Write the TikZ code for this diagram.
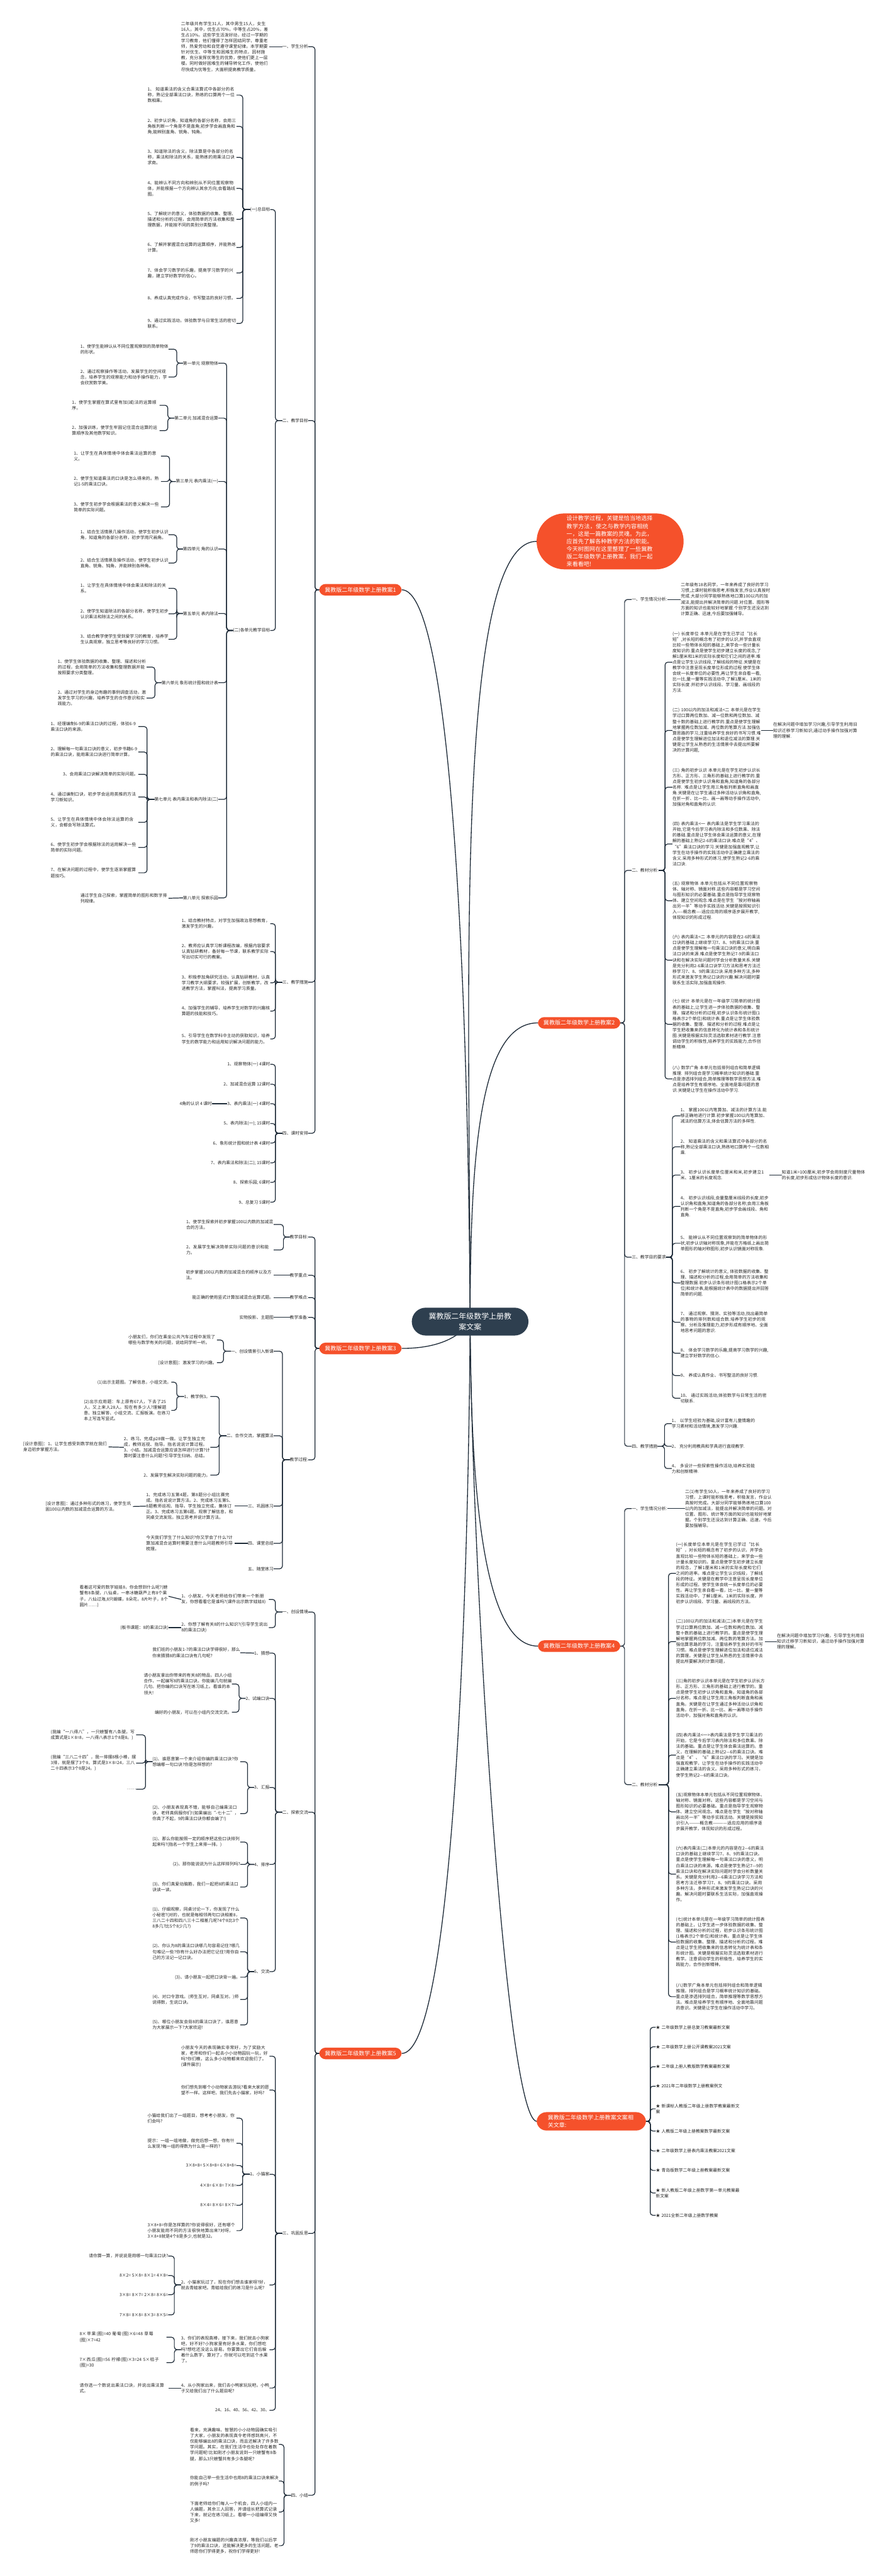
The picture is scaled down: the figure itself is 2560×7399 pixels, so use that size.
\documentclass[tikz,border=0pt]{standalone}
\usepackage{fontspec}
\setmainfont{Noto Sans CJK SC}
\usetikzlibrary{backgrounds}
\XeTeXlinebreaklocale "zh"
\XeTeXlinebreakskip = 0pt plus 1pt
\definecolor{ink}{HTML}{1E2B38}
\definecolor{topicred}{HTML}{F5512B}
\definecolor{rootslate}{HTML}{2E3F4F}

\begin{document}
\begin{tikzpicture}[x=1pt, y=-1pt,
    every node/.style={font=\fontsize{12.3}{16.4}\selectfont, text=black!85, inner sep=0pt},
    para/.style={text width=#1pt, align=left},
    lnode/.style={anchor=east},
    rnode/.style={anchor=west},
    topic/.style={rectangle, fill=topicred, text=white, rounded corners=18pt,
      font=\fontsize{16.3}{21.6}\selectfont, inner xsep=16pt, inner ysep=9pt},
    rootbox/.style={rectangle, fill=rootslate, text=white, rounded corners=40pt,
      minimum width=335pt, minimum height=80pt, align=center,
      font=\fontsize{21.6}{31}\selectfont},
    link/.style={draw=ink, line width=2.2pt, rounded corners=8pt},
    trunk/.style={draw=ink, line width=2.4pt}
  ]
  \useasboundingbox (0,0) rectangle (2560,7399);

  % ===== Root and the lesson topics =====
  \node[rootbox] (root) at (1350,3796) {冀教版二年级数学上册教\\案文案};
  \node[topic] (L1) at (1035,1694) {冀教版二年级数学上册教案1};
  \node[topic] (L3) at (1035,3873) {冀教版二年级数学上册教案3};
  \node[topic] (L5) at (1035,5898) {冀教版二年级数学上册教案5};
  \node[topic, text width=250pt, align=left, inner xsep=86pt, inner ysep=7pt,
    rounded corners=80pt, font=\fontsize{16.4}{21.9}\selectfont] (R0) at (1752,1555)
    {设计教学过程，关键是恰当地选择教学方法，使之与教学内容相统一，这是一篇教案的灵魂。为此，应首先了解各种教学方法的职能。今天树图网在这里整理了一些冀教版二年级数学上册教案，我们一起来看看吧!};
  \node[topic] (R2) at (1663,2938) {冀教版二年级数学上册教案2};
  \node[topic] (R4) at (1663,4728) {冀教版二年级数学上册教案4};
  \node[topic, text width=250pt, align=left, inner xsep=32pt, inner ysep=8pt,
    rounded corners=28pt] (R6) at (1698,6093) {冀教版二年级数学上册教案文案相关文章:};

  % ===== 教案1 =====
  \node[lnode] (a1) at (885,134) {一、学生分析};
  \node[lnode] (a2) at (885,1208) {二、教学目标};
  \node[lnode] (a3) at (885,2821) {三、教学措施};
  \node[lnode] (a4) at (885,3255) {四、课时安排};
  \node[lnode, para=254] (a1x) at (774,134) {二年级共有学生31人，其中男生15人，女生16人，其中，优生占70\%，中等生占20\%，差生占10\%。这些学生活泼好动，经过一学期的学习教育，他们懂得了怎样团结同学，尊重老师，热爱劳动和自觉遵守课堂纪律。本学期要针对优生、中等生和困难生的特点，因材施教，充分发挥优等生的优势，使他们更上一层楼。同时做好困难生的辅导转化工作，使他们尽快成为优等生，大面积提高教学质量。};
  \node[lnode] (b1) at (776,602) {(一)总目标};
  \node[lnode] (b2) at (776,1811) {(二)各单元教学目标};
  \node[lnode, para=255] (b1c1) at (679,273) {1、 知道乘法的含义合乘法算式中各部分的名称，熟记全部乘法口诀，熟练的口算两个一位数相乘。};
  \node[lnode, para=255] (b1c2) at (679,363) {2、初步认识角，知道角的各部分名称，会用三角板判断一个角是不是直角;初步学会画直角和角;能辨别直角、锐角、钝角。};
  \node[lnode, para=255] (b1c3) at (679,452) {3、知道除法的含义，除法算是中各部分的名称，乘法和除法的关系，能熟练的用乘法口诀求商。};
  \node[lnode, para=255] (b1c4) at (679,541) {4、能辨认不同方向和辨别从不同位置观察物体，并能根据一个方向辨认其余方向;会看路线图。};
  \node[lnode, para=255] (b1c5) at (679,630) {5、了解统计的意义，体验数据的收集、整理、描述和分析的过程，会用简单的方法收集和整理数据，并能按不同的类别分类整理。};
  \node[lnode, para=255] (b1c6) at (679,711) {6、了解并掌握混合运算的运算顺序，并能熟练计算。};
  \node[lnode, para=255] (b1c7) at (679,784) {7、体会学习数学的乐趣，提高学习数学的兴趣，建立学好数学的信心。};
  \node[lnode, para=255] (b1c8) at (679,857) {8、养成认真完成作业，书写整洁的良好习惯。};
  \node[lnode, para=255] (b1c9) at (679,929) {9、通过实践活动，体验数学与日常生活的密切联系。};
  \node[lnode] (u1) at (627,1043) {第一单元 观察物体};
  \node[lnode] (u2) at (627,1201) {第二单元 加减混合运算};
  \node[lnode] (u3) at (627,1383) {第三单元 表内乘法(一)};
  \node[lnode] (u4) at (627,1577) {第四单元 角的认识};
  \node[lnode] (u5) at (627,1762) {第五单元 表内除法};
  \node[lnode] (u6) at (627,1961) {第六单元 象形统计图和统计表};
  \node[lnode] (u7) at (627,2296) {第七单元 表内乘法和表内除法(二)};
  \node[lnode] (u8) at (627,2579) {第八单元 探索乐园};
  \node[lnode, para=253] (u1c1) at (484,1003) {1、使学生能辨认从不同位置观察到的简单物体的形状。};
  \node[lnode, para=253] (u1c2) at (484,1083) {2、通过观察操作等活动，发展学生的空间观念，培养学生的观察能力和动手操作能力，学会欣赏数学美。};
  \node[lnode, para=251] (u2c1) at (458,1164) {1、使学生掌握在算式里有加(减)法的运算顺序。};
  \node[lnode, para=251] (u2c2) at (458,1237) {2、加强训练，使学生牢固记住混合运算的运算顺序及其他数学知识。};
  \node[lnode, para=250] (u3c1) at (462,1310) {1、让学生在具体情境中体会乘法运算的意义。};
  \node[lnode, para=250] (u3c2) at (462,1383) {2、使学生知道乘法的口诀是怎么得来的。熟记1-5的乘法口诀。};
  \node[lnode, para=250] (u3c3) at (462,1456) {3、使学生初步学会根据乘法的意义解决一些简单的实际问题。};
  \node[lnode, para=253] (u4c1) at (484,1536) {1、结合生活情景几操作活动，使学生初步认识角，知道角的各部分名称，初步学用尺画角。};
  \node[lnode, para=253] (u4c2) at (484,1617) {2、结合生活情景及操作活动，使学生初步认识直角、锐角、钝角，并能辨别各种角。};
  \node[lnode, para=253] (u5c1) at (484,1690) {1、让学生在具体情境中体会乘法和除法的关系。};
  \node[lnode, para=253] (u5c2) at (484,1763) {2、使学生知道除法的各部分名称，使学生初步认识乘法和除法之间的关系。};
  \node[lnode, para=253] (u5c3) at (484,1836) {3、结合教学使学生受到爱学习的教育，培养学生认真观察，独立思考等良好的学习习惯。};
  \node[lnode, para=255] (u6c1) at (421,1916) {1、使学生体验数据的收集、整理、描述和分析的过程，会用简单的方法收集和整理数据并能按照要求分类整理。};
  \node[lnode, para=255] (u6c2) at (421,2005) {2、通过对学生的身边有趣的事例调查活动，激发学生学习的兴趣，培养学生的合作意识和实践能力。};
  \node[lnode, para=251] (u7c1) at (397,2087) {1、经理编制6-9的乘法口诀的过程，体验6-9乘法口诀的来源。};
  \node[lnode, para=251] (u7c2) at (397,2160) {2、理解每一句乘法口诀的意义，初步书籍6-9的乘法口诀，能用乘法口诀进行简单计算。};
  \node[lnode] (u7c3) at (397,2224) {3、会用乘法口诀解决简单的实际问题。};
  \node[lnode, para=251] (u7c4) at (397,2289) {4、通过编制口诀，初步学会运用类推的方法学习新知识。};
  \node[lnode, para=251] (u7c5) at (397,2362) {5、让学生在具体情境中体会除法运算的含义，会都会写除法算式。};
  \node[lnode, para=251] (u7c6) at (397,2434) {6、使学生初步学会根据除法的运用解决一些简单的实际问题。};
  \node[lnode, para=251] (u7c7) at (397,2507) {7、在解决问题的过程中，使学生逐渐掌握算题技巧。};
  \node[lnode, para=253] (u8c1) at (484,2580) {通过学生自己探索，掌握简单的图形和数字排列规律。};
  \node[lnode, para=254] (a3c1) at (776,2653) {1、结合教材特点，对学生加强政治思想教育，激发学生的兴趣。};
  \node[lnode, para=254] (a3c2) at (776,2733) {2、教师应认真学习新课程改编，根据内容要求认真钻研教材，备好每一节课，联系教学实际写出切实可行的教案。};
  \node[lnode, para=254] (a3c3) at (776,2823) {3、积极参加角研究活动，认真钻研教材，认真学习教学大纲要求，较强扩展，创新教学，改进教学方法，掌握叫法，提高学习质量。};
  \node[lnode, para=254] (a3c4) at (776,2904) {4、加强学生的辅导，培养学生对数学的兴趣核算题的技能和技巧。};
  \node[lnode, para=254] (a3c5) at (776,2984) {5、引导学生在数学科中主动的获取知识，培养学生的数学能力和运用知识解决问题的能力。};
  \node[lnode] (a4c1) at (776,3057) {1、观察物体(一) 4课时};
  \node[lnode] (a4c2) at (776,3114) {2、加减混合运算 12课时};
  \node[lnode] (a4c3) at (776,3170) {3、表内乘法(一) 4课时};
  \node[lnode] (a4c4) at (776,3227) {5、表内除法(一); 15课时};
  \node[lnode] (a4c5) at (776,3283) {6、象形统计图和统计表 4课时};
  \node[lnode] (a4c6) at (776,3340) {7、表内乘法和除法(二); 15课时};
  \node[lnode] (a4c7) at (776,3396) {8、探索乐园; 6课时};
  \node[lnode] (a4c8) at (776,3453) {9、总复习 5课时};
  \node[lnode] (a4c3x) at (609,3170) {4角的认识 4 课时};

  % ===== 教案3 =====
  \node[lnode] (d1) at (885,3553) {教学目标:};
  \node[lnode] (d2) at (885,3663) {教学重点:};
  \node[lnode] (d3) at (885,3727) {教学难点:};
  \node[lnode] (d4) at (885,3784) {教学准备:};
  \node[lnode] (d5) at (885,4193) {教学过程:};
  \node[lnode, para=251] (d1c1) at (786,3517) {1、使学生探索并初步掌握100以内数的加减混合的方法。};
  \node[lnode, para=251] (d1c2) at (786,3590) {2、发展学生解决简单实际问题的意识和能力。};
  \node[lnode, para=252] (d2c1) at (786,3663) {初步掌握100以内数的加减混合的顺序以及方法。};
  \node[lnode] (d3c1) at (786,3727) {能正确的使用竖式计算加减混合运算式题。};
  \node[lnode] (d4c1) at (786,3784) {实物投影、主题图};
  \node[lnode] (e1) at (786,3881) {一、创设情景引入新课};
  \node[lnode] (e2) at (786,4124) {二、合作交流，掌握算法};
  \node[lnode] (e3) at (786,4326) {三、巩固练习};
  \node[lnode] (e4) at (786,4433) {四、课堂总结};
  \node[lnode] (e5) at (786,4506) {五、随堂练习};
  \node[lnode, para=254] (e1c1) at (623,3849) {小朋友们，你们在乘坐公共汽车过程中发现了哪些与数学有关的问题，说给同学听一听。};
  \node[lnode] (e1c2) at (623,3914) {[设计意图]：激发学习的兴趣。};
  \node[lnode] (f1) at (604,4011) {1、教学例3。};
  \node[lnode, para=248] (f2) at (604,4157) {2、练习。完成p28做一做。让学生独立完成，教师巡视、指导。指名说说计算过程。3、小结。加减混合运算应该怎样进行计算?计算时要注意什么问题?引导学生归纳、总结。};
  \node[lnode] (f3) at (604,4237) {2、发展学生解决实际问题的能力。};
  \node[lnode] (f1c1) at (492,3970) {(1)出示主题图。了解信息，小组交流。};
  \node[lnode, para=251] (f1c2) at (492,4051) {(2)出示应用题：车上原有67人，下去了25人，又上来人28人。现在有多少人?理解题意、独立解答、小组交流、汇报板演。在练习本上写连写竖式。};
  \node[lnode, para=245] (f2x) at (312,4156) {[设计意图]：1、让学生感受到数学就在我们身边初步掌握方法。};
  \node[lnode, para=253] (e3x) at (673,4326) {1、完成练习五第4题，第8题分小组比赛完成。指名说说计算方法。2、完成练习五第5、8题教师巡视、指导。学生独立完成。集体订正。3、完成练习五第6题。观察了解信息，和同桌交流发现。独立思考并说计算方法。};
  \node[lnode, para=251] (e3xx) at (382,4327) {[设计意图]：通过多种形式的练习，使学生巩固100以内数的加减混合运算的方法。};
  \node[lnode, para=253] (e4x) at (673,4433) {今天我们学生了什么知识?你又学会了什么?计算加减混合运算时需要注意什么问题教师引导梳理。};

  % ===== 教案5 =====
  \node[lnode] (g1) at (885,4630) {一、创设情境};
  \node[lnode] (g2) at (885,5205) {二、探索交流};
  \node[lnode] (g3) at (885,6415) {三、巩固反思};
  \node[lnode] (g4) at (885,7167) {四、小结};
  \node[lnode, para=251] (h1) at (772,4594) {1、小朋友，今天老师给你们带来一个新朋友，你想看看它是谁吗?(课件出示数字娃娃8)};
  \node[lnode, para=251] (h2) at (772,4675) {2、你想了解有关8的什么知识?(引导学生说出8的乘法口诀)};
  \node[lnode, para=255] (h1x) at (484,4585) {看着这可爱的数字娃娃8，你会想到什么呢?(螃蟹有8条腿，八仙桌，一串冰糖葫芦上有8个果子，八仙过海,8只蝴蝶，8朵花，8片叶子，8个圆片……)};
  \node[lnode] (h2x) at (484,4675) {(板书课题：8的乘法口诀)};
  \node[lnode] (i1) at (774,4748) {1、猜想};
  \node[lnode] (i2) at (774,4878) {2、试编口诀};
  \node[lnode] (i3) at (774,5134) {3、汇报};
  \node[lnode] (i4) at (774,5355) {4、排序};
  \node[lnode] (i5) at (774,5663) {5、交流};
  \node[lnode, para=252] (i1x) at (690,4747) {我们班的小朋友1-7的乘法口诀学得很好，那么你来猜猜8的乘法口诀有几句呢?};
  \node[lnode, para=253] (i2c1) at (666,4837) {请小朋友拿出你带来的有关8的物品，四人小组合作，一起编写8的乘法口诀。你能编几句就编几句。把你编的口诀写在练习纸上。看谁的本领大!};
  \node[lnode] (i2c2) at (666,4918) {编好的小朋友，可以在小组内交流交流。};
  \node[lnode, para=252] (j1) at (690,5060) {(1)、谁愿意第一个来介绍你编的乘法口诀?你想编哪一句口诀?你是怎样想的?};
  \node[lnode, para=252] (j2) at (690,5209) {(2)、小朋友表现真不错，能够自己编乘法口诀，老师真佩服你们!(如果编出“-七十二”，你真了不起，9的乘法口诀你都会编了!)};
  \node[lnode, para=245] (j1c1) at (391,4983) {(我编“一八得八”，一只螃蟹有八条腿，写成算式是1×8=8，一八得八表示1个8是8。)};
  \node[lnode, para=245] (j1c2) at (391,5064) {(我编“三八二十四”，我一排摆8根小棒，摆3排，就是摆了3个8，算式是3×8=24，三八二十四表示3个8是24。)};
  \node[lnode] (j1c3) at (391,5139) {……};
  \node[lnode, para=252] (i4c1) at (690,5291) {(1)、那么你能按照一定的顺序把这些口诀排列起来吗?(指名一个学生上来排一排。)};
  \node[lnode] (i4c2) at (690,5355) {(2)、那你能说说为什么这样排列吗?};
  \node[lnode, para=252] (i4c3) at (690,5420) {(3)、你们真爱动脑筋，我们一起把8的乘法口诀读一读。};
  \node[lnode, para=252] (i5c1) at (690,5509) {(1)、仔细观察，同桌讨论一下，你发现了什么小秘密?(对的，也就是每相邻两句口诀相差8，三八二十四和四八三十二相差几呢?4个8比3个8多几?比5个8少几?)};
  \node[lnode, para=252] (i5c2) at (690,5606) {(2)、你认为8的乘法口诀哪几句容易记住?哪几句难记一些?你有什么好办法把它记住?用你自己的方法记一记口诀。};
  \node[lnode] (i5c3) at (690,5679) {(3)、请小朋友一起把口诀背一遍。};
  \node[lnode, para=252] (i5c4) at (690,5743) {(4)、对口令游戏。(师生互对，同桌互对。)师说得数，生说口诀。};
  \node[lnode, para=252] (i5c5) at (690,5816) {(5)、哪位小朋友会背8的乘法口诀了，谁愿意为大家展示一下?大家欢迎!};
  \node[lnode, para=254] (k1) at (774,5906) {小朋友今天的表现确实非常好，为了奖励大家，老师和你们一起去小小动物园玩一玩，好吗?你们瞧，这么多小动物都来欢迎我们了。(课件展示)};
  \node[lnode, para=254] (k2) at (774,6003) {你们想先到哪个小动物家去游玩?看来大家的愿望不一样。这样吧，我们先去小猫家，好吗?};
  \node[lnode] (k3) at (774,6245) {1、小猫家};
  \node[lnode, para=254] (k4) at (774,6563) {2、小猫家玩过了，现在你们想去谁家呀?好，就去青蛙家吧。青蛙给我们的练习是什么呢?};
  \node[lnode, para=254] (k5) at (774,6749) {3、你们的表现真棒，接下来，我们就去小狗家吧，好不好?小狗家里有好多水果，你们想吃吗?想吃还没这么容易。你要算出它们背后躲着什么数字，算对了，你就可以吃到这个水果了。};
  \node[lnode, para=254] (k6) at (774,6859) {4、从小狗家出来，我们去小鸭家玩玩吧。小鸭子又给我们出了什么题目呢?};
  \node[lnode] (k7) at (774,6923) {24、16、40、56、42、30、};
  \node[lnode, para=255] (k3c1) at (679,6084) {小猫给我们出了一组题目，想考考小朋友，你们会吗?};
  \node[lnode, para=255] (k3c2) at (679,6156) {提示：一组一组地做，做完后想一想，你有什么发现?每一组的得数为什么是一样的?};
  \node[lnode] (k3c3) at (679,6220) {3×8+8= 5×8+8= 6×8+8=};
  \node[lnode] (k3c4) at (679,6277) {4×8= 6×8= 7×8=};
  \node[lnode] (k3c5) at (679,6334) {8×4= 8×6= 8×7=};
  \node[lnode, para=255] (k3c6) at (679,6407) {3×8+8=你是怎样算的?你说得很好，还有哪个小朋友能用不同的方法很快地算出来?对呀，3×8+8就是4个8是多少,也就是32。};
  \node[lnode] (k4c1) at (483,6480) {请你算一算，并说说是用哪一句乘法口诀?};
  \node[lnode] (k4c2) at (483,6536) {8×2= 5×8= 8×1= 4×8=};
  \node[lnode] (k4c3) at (483,6591) {3×8= 8×7= 2×8= 8×6=};
  \node[lnode] (k4c4) at (483,6649) {7×8= 8×8= 8×3= 8×5=};
  \node[lnode, para=249] (k5c1) at (478,6713) {8×苹果(图)=40 葡萄(图)×6=48 草莓(图)×7=42};
  \node[lnode, para=249] (k5c2) at (478,6786) {7×西瓜(图)=56 柠檬(图)×3=24 5×桔子(图)=30};
  \node[lnode, para=255] (k6x) at (484,6859) {请你选一个数说出乘法口诀，并说出乘法算式。};
  \node[lnode, para=255] (g4c1) at (801,7021) {看来，充满趣味、智慧的小小动物园确实吸引了大家，小朋友的表现真令老师感到高兴，不仅能够编出8的乘法口诀，而且还解决了许多数学问题。其实，在我们生活中也处处存在着数学问题呢!比如刚才小朋友说到一只螃蟹有8条腿，那么3只螃蟹共有多少条腿呢?};
  \node[lnode, para=255] (g4c2) at (801,7126) {你能自己举一些生活中也用8的乘法口诀来解决的例子吗?};
  \node[lnode, para=255] (g4c3) at (801,7215) {下面老师给你们每人一个机会，四人小组内一人编题，其余三人回答，并请组长把算式记录下来，就记在练习纸上。看哪一小组编得又快又多!};
  \node[lnode, para=255] (g4c4) at (801,7312) {刚才小朋友编题的兴趣真浓厚，等我们以后学了9的乘法口诀，还能解决更多的生活问题。老师愿你们学得更多，祝你们学得更好!};

  % ===== 教案2 =====
  \node[rnode] (m1) at (1814,1722) {一、学生情况分析:};
  \node[rnode] (m2) at (1814,2500) {二、教材分析:};
  \node[rnode] (m3) at (1814,3611) {三、教学目的要求};
  \node[rnode] (m4) at (1814,4154) {四、教学措施};
  \node[rnode, para=257] (m1x) at (1955,1722) {二年级有18名同学，一年来养成了良好的学习习惯,上课时能积极思考,积极发言,作业认真按时完成.大部分同学能够熟练地口算100以内的加减法,能提出并解决简单的问题.对位置、图形等方面的知识也能较好地掌握.个别学生还没达到计算正确、迅速,今后要加强辅导。};
  \node[rnode, para=255] (m2c1) at (1931,1902) {(一) 长度单位 本单元是在学生已学过“比长短”,对长短的概念有了初步的认识,并学会直观比较一些物体长短的基础上,来学会一些计量长度知识的.重点是使学生初步建立长度的观念,了解1厘米和1米的实际长度和它们之间的进率.难点是让学生认识线段,了解线段的特征.关键是在教学中注意呈现长度单位形成的过程.使学生体会统一长度单位的必要性,再让学生亲自看一看,比一比,量一量等实践活动中,了解1厘米、1米的实际长度.并初步认识线段、学习量、画线段的方法.};
  \node[rnode, para=255] (m2c2) at (1931,2098) {(二) 100以内的加法和减法<二 本单元是在学生学过口算两位数加、减一位数和两位数加、减整十数的基础上进行教学的.重点是使学生理解地掌握两位数加减、两位数的笔算方法.加强估算思路的学习,注重培养学生良好的书写习惯.难点是使学生理解进位加法和退位减法的算理.关键是让学生从熟悉的生活情景中去提出所要解决的计算问题,};
  \node[rnode, para=255] (m2c3) at (1931,2261) {(三) 角的初步认识 本单元是在学生初步认识长方形、正方形、三角形的基础上进行教学的.重点是使学生初步认识角和直角,知道角的各部分名称. 难点是让学生用三角板判断直角和画直角.关键是在让学生通过多种活动认识角和直角,在折一折、比一比、画一画等动手操作活动中,加强对角和直角的认识.};
  \node[rnode, para=255] (m2c4) at (1931,2424) {(四) 表内乘法<一 表内乘法是学生学习乘法的开始,它是今后学习表内除法和多位数乘、除法的基础.重点是让学生体会乘法运算的意义,在理解的基础上熟记2-6的乘法口诀.难点是“4”、“6”乘法口诀的学习.关键是加强直观教学,让学生在动手操作的实践活动中正确建立乘法的含义.采用多种形式的练习,使学生熟记2-6的乘法口诀.};
  \node[rnode, para=255] (m2c5) at (1931,2587) {(五) 观察物体 本单元包括从不同位置观察物体、轴对称、镜面对称.这些内容都是学习空间与图形知识的必要基础.重点是指导学生观察物体、建立空间观念.难点是在学生“按对称轴画出另一半”等动手实践活动.关键是按照知识引入-----概念教----适应应用的顺序逐步展开教学,体现知识的形成过程.};
  \node[rnode, para=255] (m2c6) at (1931,2758) {(六) 表内乘法<二 本单元的内容是在2-6的乘法口诀的基础上继续学习7、8、9的乘法口诀.重点是使学生理解每一句乘法口诀的意义,明白乘法口诀的来源.难点是使学生熟记7-9的乘法口诀和在解决实际问题时学会分析数量关系.关键是充分利用2-6乘法口诀学习方法和思考方法迁移学习7、8、9的乘法口诀.采用多种方法,多种形式来激发学生熟记口诀的兴趣.解决问题时要联系生活实际,加强直观操作.};
  \node[rnode, para=255] (m2c7) at (1931,2942) {(七) 统计 本单元是在一年级学习简单的统计图表的基础上,让学生进一步体验数据的收集、整理、描述和分析的过程,初步认识条形统计图(1格表示2个单位)和统计表.重点是让学生体验数据的收集、整理、描述和分析的过程.难点是让学生把收集来的信息转化为统计表和条形统计图.关键是根据实际灵活选取素材进行教学.注意调动学生的积极性,培养学生的实践能力,合作创新精神.};
  \node[rnode, para=255] (m2c8) at (1931,3099) {(八) 数学广角 本单元包括排列组合和简单逻辑推理. 排列组合是学习概率统计知识的基础.重点是渗透排列组合,简单推理等数学思想方法.难点是培养学生有顺序地、全面地是靠问题的意识.关键是让学生在操作活动中学习.};
  \node[rnode, para=247] (m2c2x) at (2220,2098) {在解决问题中增加学习兴趣,引导学生利用旧知识迁移学习新知识,通过动手操作加强对算理的理解.};
  \node[rnode, para=254] (m3c1) at (1954,3205) {1、 掌握100以内笔算加、减法的计算方法.能够正确地进行计算.初步掌握100以内笔算加、减法的估算方法,体会估算方法的多样性.};
  \node[rnode, para=254] (m3c2) at (1954,3294) {2、 知道乘法的含义和乘法算式中各部分的名称,熟记全部乘法口诀,熟练地口算两个一位数相乘.};
  \node[rnode, para=254] (m3c3) at (1954,3375) {3、 初步认识长度单位厘米和米,初步建立1米、1厘米的长度观念.};
  \node[rnode, para=254] (m3c4) at (1954,3465) {4、 初步认识线段,会量整厘米线段的长度;初步认识角和直角;知道角的各部分名称;会用三角板判断一个角是不是直角;初步学会画线段、角和直角.};
  \node[rnode, para=254] (m3c5) at (1954,3571) {5、 能辨认从不同位置观察到的简单物体的形状;初步认识轴对称现象,并能在方格纸上画出简单图形的轴对称图形;初步认识镜面对称现象.};
  \node[rnode, para=254] (m3c6) at (1954,3685) {6、 初步了解统计的意义, 体验数据的收集、整理、描述和分析的过程,会用简单的方法收集和整理数据.初步认识条形统计图(1格表示2个单位)和统计表,能根据统计表中的数据提出并回答简单的问题.};
  \node[rnode, para=254] (m3c7) at (1954,3798) {7、 通过观察、猜测、实验等活动,找出最简单的事物的排列数和组合数.培养学生初步的观察、分析及推理能力,初步形成有顺序地、全面地思考问题的意识.};
  \node[rnode, para=254] (m3c8) at (1954,3887) {8、 体会学习数学的乐趣,提高学习数学的兴趣,建立学好数学的信心.};
  \node[rnode, para=254] (m3c9) at (1954,3951) {9、 养成认真作业、书写整洁的良好习惯.};
  \node[rnode, para=254] (m3c10) at (1954,4016) {10、 通过实践活动,体验数学与日常生活的密切联系.};
  \node[rnode, para=246] (m3c3x) at (2245,3375) {知道1米=100厘米;初步学会用刻度尺量物体的长度,初步形成估计物体长度的意识.};
  \node[rnode, para=243] (m4c1) at (1929,4089) {1、 以学生经验为基础,设计富有儿童情趣的学习素材和活动情境,激发学习兴趣.};
  \node[rnode] (m4c2) at (1929,4154) {2、 充分利用教具和学具进行直观教学.};
  \node[rnode, para=243] (m4c3) at (1929,4218) {4、 多设计一些探索性操作活动,培养实验能力和创新精神.};

  % ===== 教案4 =====
  \node[rnode] (n1) at (1814,4333) {一、学生情况分析:};
  \node[rnode] (n2) at (1814,5126) {二、教材分析:};
  \node[rnode, para=253] (n1x) at (1967,4333) {二(1)有学生50人，一年来养成了良好的学习习惯，上课时能积极思考，积极发言，作业认真按时完成。大部分同学能够熟练地口算100以内的加减法，能提出并解决简单的问题。对位置、图形、统计等方面的知识也能较好地掌握。个别学生还没达到计算正确、迅速，今后要加强辅导。};
  \node[rnode, para=255] (n2c1) at (1941,4519) {(一)长度单位本单元是在学生已学过“比长短”，对长短的概念有了初步的认识，并学会直观比较一些物体长短的基础上，来学会一些计量长度知识的。重点是使学生初步建立长度的观念，了解1厘米和1米的实际长度和它们之间的进率。难点是让学生认识线段，了解线段的特征。关键是在教学中注意呈现长度单位形成的过程。使学生体会统一长度单位的必要性。再让学生亲自看一看，比一比，量一量等实践活动中，了解1厘米、1米的实际长度。并初步认识线段、学习量、画线段的方法。};
  \node[rnode, para=255] (n2c2) at (1941,4715) {(二)100以内的加法和减法(二)本单元是在学生学过口算两位数加、减一位数和两位数加、减整十数的基础上进行教学的。重点是使学生理解地掌握两位数加减、两位数的笔算方法。加强估算思路的学习，注重培养学生良好的书写习惯。难点是使学生理解进位加法和退位减法的算理。关键是让学生从熟悉的生活情景中去提出所要解决的计算问题，};
  \node[rnode, para=255] (n2c3) at (1941,4878) {(三)角的初步认识本单元是在学生初步认识长方形、正方形、三角形的基础上进行教学的。重点是使学生初步认识角和直角，知道角的各部分名称。难点是让学生用三角板判断直角和画直角。关键是在让学生通过多种活动认识角和直角，在折一折、比一比、画一画等动手操作活动中，加强对角和直角的认识。};
  \node[rnode, para=255] (n2c4) at (1941,5041) {(四)表内乘法<一>表内乘法是学生学习乘法的开始，它是今后学习表内除法和多位数乘、除法的基础。重点是让学生体会乘法运算的。意义，在理解的基础上熟记2—6的乘法口诀。难点是“4”、“6”乘法口诀的学习。关键是加强直观教学，让学生在动手操作的实践活动中正确建立乘法的含义。采用多种形式的练习，使学生熟记2—6的乘法口诀。};
  \node[rnode, para=255] (n2c5) at (1941,5204) {(五)观察物体本单元包括从不同位置观察物体、轴对称、镜面对称。这些内容都是学习空间与图形知识的必要基础。重点是指导学生观察物体、建立空间观念。难点是在学生“按对称轴画出另一半”等动手实践活动。关键是按照知识引入———概念教————适应应用的顺序逐步展开教学，体现知识的形成过程。};
  \node[rnode, para=255] (n2c6) at (1941,5383) {(六)表内乘法(二)本单元的内容是在2—6的乘法口诀的基础上继续学习7、8、9的乘法口诀。重点是使学生理解每一句乘法口诀的意义，明白乘法口诀的来源。难点是使学生熟记7—9的乘法口诀和在解决实际问题时学会分析数量关系。关键是充分利用2—6乘法口诀学习方法和思考方法迁移学习7、8、9的乘法口诀。采用多种方法，多种形式来激发学生熟记口诀的兴趣。解决问题时要联系生活实际，加强直观操作。};
  \node[rnode, para=255] (n2c7) at (1941,5578) {(七)统计本单元是在一年级学习简单的统计图表的基础上，让学生进一步体验数据的收集、整理、描述和分析的过程，初步认识条形统计图(1格表示2个单位)和统计表。重点是让学生体验数据的收集、整理、描述和分析的过程。难点是让学生把收集来的信息转化为统计表和条形统计图。关键是根据实际灵活选取素材进行教学。注意调动学生的积极性，培养学生的实践能力，合作创新精神。};
  \node[rnode, para=255] (n2c8) at (1941,5735) {(八)数学广角本单元包括排列组合和简单逻辑推理。排列组合是学习概率统计知识的基础。重点是渗透排列组合，简单推理等数学思想方法。难点是培养学生有顺序地、全面地靠问题的意识。关键是让学生在操作活动中学习。};
  \node[rnode, para=257] (n2c2x) at (2231,4715) {在解决问题中增加学习兴趣，引导学生利用旧知识迁移学习新知识，通过动手操作加强对算理的理解。};

  % ===== 相关文章 =====
  \node[rnode, para=245] (s1) at (1883,5823) {★ 二年级数学上册总复习教案最新文案};
  \node[rnode, para=245] (s2) at (1883,5879) {★ 二年级数学上册公开课教案2021文案};
  \node[rnode, para=245] (s3) at (1883,5936) {★ 二年级上册人教版数学教案最新文案};
  \node[rnode, para=245] (s4) at (1883,5992) {★ 2021年二年级数学上册教案例文};
  \node[rnode, para=245] (s5) at (1883,6057) {★ 新课标人教版二年级上册数学教案最新文案};
  \node[rnode, para=245] (s6) at (1883,6121) {★ 人教版二年级上册教案数学最新文案};
  \node[rnode, para=245] (s7) at (1883,6178) {★ 二年级数学上册表内乘法教案2021文案};
  \node[rnode, para=245] (s8) at (1883,6234) {★ 青岛版数学二年级上册教案最新文案};
  \node[rnode, para=245] (s9) at (1883,6299) {★ 新人教版二年级上册数学第一单元教案最新文案};
  \node[rnode, para=245] (s10) at (1883,6363) {★ 2021全新二年级上册数学教案};

  % ===== Trunk curves from the root =====
  \begin{scope}[on background layer]
    \fill[white] (0,0) rectangle (2560,7399);
    \draw[trunk] (L1.east) .. controls (1300,1694) and (1345,2900) .. (root.center);
    \draw[trunk] (L3.east) .. controls (1260,3873) and (1320,3840) .. (root.center);
    \draw[trunk] (L5.east) .. controls (1300,5898) and (1345,4600) .. (root.center);
    \draw[trunk] (R0.west) .. controls (1300,1555) and (1350,2900) .. (root.center);
    \draw[trunk] (R2.west) .. controls (1380,2938) and (1350,3300) .. (root.center);
    \draw[trunk] (R4.west) .. controls (1390,4728) and (1352,4300) .. (root.center);
    \draw[trunk] (R6.west) .. controls (1450,6080) and (1355,4500) .. (root.center);
  \end{scope}

  % ===== Brackets: left side =====
  \foreach \c in {a1,a2,a3,a4} \draw[link] (L1.west) -- ++(-12,0) |- (\c.east);
  \draw[link] (a1.west) -- (a1x.east);
  \foreach \c in {b1,b2} \draw[link] (a2.west) -- ++(-20,0) |- (\c.east);
  \foreach \i in {1,...,9} \draw[link] (b1.west) -- ++(-21,0) |- (b1c\i.east);
  \foreach \c in {u1,u2,u3,u4,u5,u6,u7,u8} \draw[link] (b2.west) -- ++(-18,0) |- (\c.east);
  \foreach \c in {u1c1,u1c2} \draw[link] (u1.west) -- ++(-18,0) |- (\c.east);
  \foreach \c in {u2c1,u2c2} \draw[link] (u2.west) -- ++(-19,0) |- (\c.east);
  \foreach \c in {u3c1,u3c2,u3c3} \draw[link] (u3.west) -- ++(-18,0) |- (\c.east);
  \foreach \c in {u4c1,u4c2} \draw[link] (u4.west) -- ++(-18,0) |- (\c.east);
  \foreach \c in {u5c1,u5c2,u5c3} \draw[link] (u5.west) -- ++(-18,0) |- (\c.east);
  \foreach \c in {u6c1,u6c2} \draw[link] (u6.west) -- ++(-19,0) |- (\c.east);
  \foreach \i in {1,...,7} \draw[link] (u7.west) -- ++(-21,0) |- (u7c\i.east);
  \draw[link] (u8.west) -- (u8c1.east);
  \foreach \i in {1,...,5} \draw[link] (a3.west) -- ++(-20,0) |- (a3c\i.east);
  \foreach \i in {1,...,8} \draw[link] (a4.west) -- ++(-20,0) |- (a4c\i.east);
  \draw[link] (a4c3.west) -- (a4c3x.east);

  \foreach \c in {d1,d2,d3,d4,d5} \draw[link] (L3.west) -- ++(-12,0) |- (\c.east);
  \foreach \c in {d1c1,d1c2} \draw[link] (d1.west) -- ++(-18,0) |- (\c.east);
  \draw[link] (d2.west) -- (d2c1.east);
  \draw[link] (d3.west) -- (d3c1.east);
  \draw[link] (d4.west) -- (d4c1.east);
  \foreach \c in {e1,e2,e3,e4,e5} \draw[link] (d5.west) -- ++(-21,0) |- (\c.east);
  \foreach \c in {e1c1,e1c2} \draw[link] (e1.west) -- ++(-21,0) |- (\c.east);
  \foreach \c in {f1,f2,f3} \draw[link] (e2.west) -- ++(-21,0) |- (\c.east);
  \foreach \c in {f1c1,f1c2} \draw[link] (f1.west) -- ++(-21,0) |- (\c.east);
  \draw[link] (f2.west) -- (f2x.east);
  \draw[link] (e3.west) -- (e3x.east);
  \draw[link] (e3x.west) -- (e3xx.east);
  \draw[link] (e4.west) -- (e4x.east);

  \foreach \c in {g1,g2,g3,g4} \draw[link] (L5.west) -- ++(-12,0) |- (\c.east);
  \foreach \c in {h1,h2} \draw[link] (g1.west) -- ++(-20,0) |- (\c.east);
  \draw[link] (h1.west) -- (h1x.east);
  \draw[link] (h2.west) -- (h2x.east);
  \foreach \c in {i1,i2,i3,i4,i5} \draw[link] (g2.west) -- ++(-20,0) |- (\c.east);
  \draw[link] (i1.west) -- (i1x.east);
  \foreach \c in {i2c1,i2c2} \draw[link] (i2.west) -- ++(-19,0) |- (\c.east);
  \foreach \c in {j1,j2} \draw[link] (i3.west) -- ++(-19,0) |- (\c.east);
  \foreach \c in {j1c1,j1c2,j1c3} \draw[link] (j1.west) -- ++(-20,0) |- (\c.east);
  \foreach \i in {1,2,3} \draw[link] (i4.west) -- ++(-19,0) |- (i4c\i.east);
  \foreach \i in {1,...,5} \draw[link] (i5.west) -- ++(-19,0) |- (i5c\i.east);
  \foreach \i in {1,...,7} \draw[link] (g3.west) -- ++(-20,0) |- (k\i.east);
  \foreach \i in {1,...,6} \draw[link] (k3.west) -- ++(-21,0) |- (k3c\i.east);
  \foreach \i in {1,...,4} \draw[link] (k4.west) -- ++(-19,0) |- (k4c\i.east);
  \foreach \i in {1,2} \draw[link] (k5.west) -- ++(-19,0) |- (k5c\i.east);
  \draw[link] (k6.west) -- (k6x.east);
  \foreach \i in {1,...,4} \draw[link] (g4.west) -- ++(-20,0) |- (g4c\i.east);

  % ===== Brackets: right side =====
  \foreach \c in {m1,m2,m3,m4} \draw[link] (R2.east) -- ++(12,0) |- (\c.west);
  \draw[link] (m1.east) -- (m1x.west);
  \foreach \i in {1,...,8} \draw[link] (m2.east) -- ++(18,0) |- (m2c\i.west);
  \draw[link] (m2c2.east) -- (m2c2x.west);
  \foreach \i in {1,...,10} \draw[link] (m3.east) -- ++(18,0) |- (m3c\i.west);
  \draw[link] (m3c3.east) -- (m3c3x.west);
  \foreach \i in {1,2,3} \draw[link] (m4.east) -- ++(20,0) |- (m4c\i.west);
  \foreach \c in {n1,n2} \draw[link] (R4.east) -- ++(12,0) |- (\c.west);
  \draw[link] (n1.east) -- (n1x.west);
  \foreach \i in {1,...,8} \draw[link] (n2.east) -- ++(28,0) |- (n2c\i.west);
  \draw[link] (n2c2.east) -- (n2c2x.west);
  \foreach \i in {1,...,10} \draw[link] (R6.east) -- ++(12,0) |- (s\i.west);
\end{tikzpicture}
\end{document}
